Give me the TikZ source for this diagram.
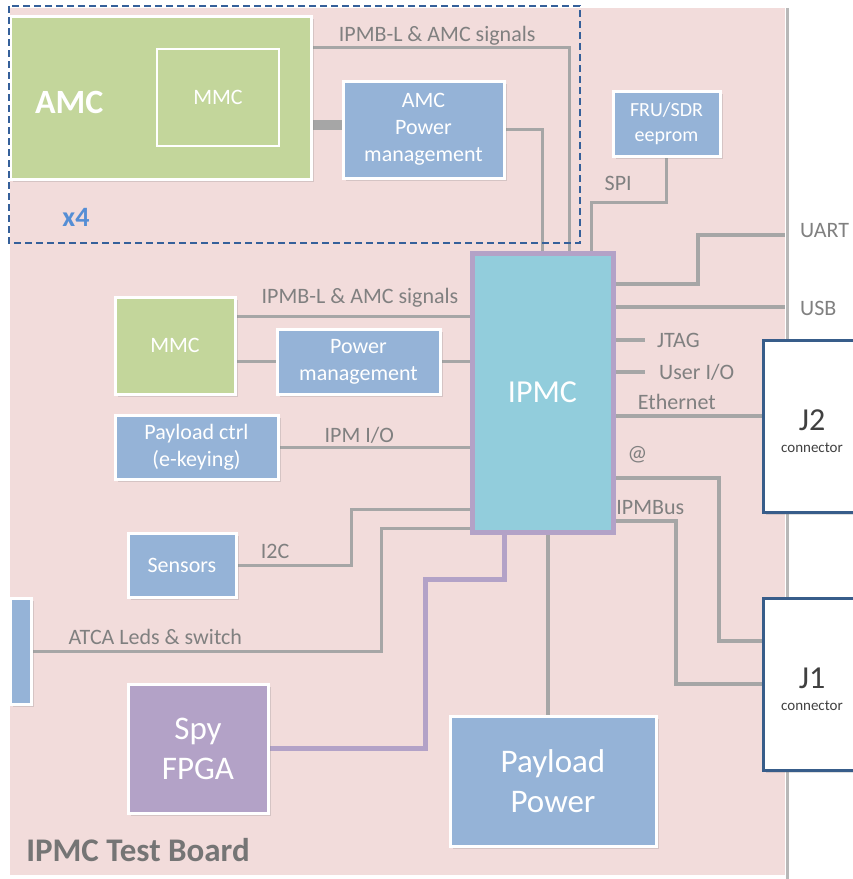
\documentclass[tikz,border=0pt]{standalone}
\usepackage{fontspec}
\setmainfont{Carlito}
\usetikzlibrary{positioning,shadows,backgrounds}
\definecolor{boardpink}{HTML}{F2DCDB}
\definecolor{amcgreen}{HTML}{C3D69B}
\definecolor{boxblue}{HTML}{95B3D7}
\definecolor{ipmccyan}{HTML}{92CDDC}
\definecolor{spypurple}{HTML}{B3A2C7}
\definecolor{linegray}{HTML}{A6A6A6}
\definecolor{labelgray}{HTML}{808080}
\definecolor{dashblue}{HTML}{35609A}
\definecolor{countblue}{HTML}{558ED5}
\definecolor{connblue}{HTML}{385D8A}

\begin{document}
\begin{tikzpicture}[x=1pt, y=-1pt, auto]
      % Define block styles
      \tikzstyle{block} = [rectangle, draw=white, line width=3pt, fill=boxblue, text=white, align=center, inner sep=0pt, font=\fontsize{22}{27}\selectfont, drop shadow={shadow xshift=3pt, shadow yshift=-3pt, opacity=.25}]
      \tikzstyle{bigblock} = [block, font=\fontsize{33}{40}\selectfont]
      \tikzstyle{conn} = [rectangle, draw=connblue, line width=3pt, fill=white, text=black!75, align=center, inner sep=0pt, drop shadow={shadow xshift=3pt, shadow yshift=-3pt, opacity=.25}]
      \tikzstyle{lbl} = [text=labelgray, inner sep=1pt, font=\fontsize{22}{27}\selectfont]
      \tikzstyle{line} = [draw=linegray, line width=3pt]
      \tikzstyle{wire} = [line, line width=4pt]
      \useasboundingbox (0,0) rectangle (853,879);

      % Place blocks
      \node [block, fill=amcgreen, minimum width=301pt, minimum height=163pt, label={[text=white, font=\bfseries\fontsize{34}{40}\selectfont, anchor=west, xshift=23pt, yshift=-5pt]west:AMC}] (amc) at (160.5,97.5) {};
      \node [rectangle, draw=white, line width=2.5pt, text=white, font=\fontsize{22}{27}\selectfont, minimum width=122pt, minimum height=97pt] (amcmmc) at (218,97.5) {MMC};
      \node [block, minimum width=161pt, minimum height=97pt] (amcpm) at (423.5,129.5) {AMC\\Power\\management};
      \node [block, minimum width=107pt, minimum height=65pt, font=\fontsize{20}{25}\selectfont] (fru) at (666.5,123.5) {FRU/SDR\\eeprom};
      \node [bigblock, draw=spypurple, line width=5pt, fill=ipmccyan, minimum width=141pt, minimum height=279pt, font=\fontsize{32}{38}\selectfont] (ipmc) at (542.5,392.5) {IPMC};
      \node [block, fill=amcgreen, minimum width=120pt, minimum height=97pt] (mmc) at (175,345.5) {MMC};
      \node [block, minimum width=163pt, minimum height=65pt] (pm) at (358.5,361.5) {Power\\management};
      \node [block, minimum width=163pt, minimum height=64pt] (payctrl) at (196.5,447) {Payload ctrl\\(e-keying)};
      \node [block, minimum width=108pt, minimum height=64pt] (sensors) at (182,565) {Sensors};
      \node [block, minimum width=21pt, minimum height=106pt] (leds) at (20.5,651) {};
      \node [bigblock, fill=spypurple, minimum width=140pt, minimum height=129pt] (fpga) at (198,748.5) {Spy\\FPGA};
      \node [bigblock, minimum width=206pt, minimum height=130pt] (paypow) at (553,781) {Payload\\Power};
      \node [conn, minimum width=98pt, minimum height=172pt, font=\fontsize{32}{30}\selectfont] (j2) at (812,426) {\rule{0pt}{32pt}J2\\[-8pt]{\fontsize{15}{18}\selectfont connector}};
      \node [conn, minimum width=98pt, minimum height=172pt, font=\fontsize{32}{30}\selectfont] (j1) at (812,684) {\rule{0pt}{32pt}J1\\[-8pt]{\fontsize{15}{18}\selectfont connector}};
      \node [text=countblue, font=\bfseries\fontsize{28}{34}\selectfont] (count) at (76,217) {x4};
      \node [text=black!54, font=\bfseries\fontsize{33}{40}\selectfont] (title) at (138,850) {IPMC Test Board};
      \draw [dashed, dash pattern=on 7pt off 4pt, dashblue, line width=2pt] (9,6) rectangle (580,243);

      % Draw lines
      \begin{scope}[on background layer]
      \fill [boardpink] (10,8) rectangle (785,875);
      \draw [linegray!80, line width=3pt] (787,8) -- (787,879);
      \coordinate (amcsig) at ([yshift=-33pt]amc.north east);
      \coordinate (amcport) at ([yshift=4.5pt]amcpm.west);
      \coordinate (spi) at ([xshift=48.5pt, yshift=48pt]ipmc.north);
      \coordinate (uart) at (785,235);
      \coordinate (usb) at (785,307);
      \coordinate (jtag) at (645,340);
      \coordinate (userio) at (645,372);
      \coordinate (eth) at ([yshift=10pt]j2.west);
      \coordinate (atport) at ([yshift=-227pt]ipmc.north east);
      \coordinate (atj1) at ([yshift=-44pt]j1.north west);
      \coordinate (busport) at ([yshift=-270pt]ipmc.north east);
      \coordinate (mmcsig) at ([yshift=-21pt]mmc.north east);
      \coordinate (i2cport) at ([yshift=-259pt]ipmc.north west);
      \coordinate (ledport) at ([yshift=-278pt]ipmc.north west);
      \coordinate (spyport) at ([xshift=-38.5pt]ipmc.south);
      \coordinate (pwrport) at ([xshift=5.5pt]ipmc.south);

      \path [line] (amcsig) -| node [lbl, pos=0.243, above=0pt] {IPMB-L \& AMC signals} ([xshift=26.5pt]ipmc.north);
      \path [line, line width=10pt] (amcport) -- (amcport -| amc.east);
      \path [line] (amcpm.east) -| (ipmc.north);
      \path [line] (fru.south) |- node [lbl, pos=0.82, above=9pt] {SPI} (spi) -- (spi |- ipmc.north);
      \path [wire] ([yshift=-33pt]ipmc.north east) -| ([xshift=-87pt]uart) -- (uart);
      \path [wire] (usb -| ipmc.east) -- (usb);
      \path [wire] (jtag -| ipmc.east) -- (jtag);
      \path [wire] (userio -| ipmc.east) -- (userio);
      \path [wire] (eth -| ipmc.east) -- node [lbl, pos=0.42, above=3.5pt] {Ethernet} (eth);
      \path [wire] (atport) -| node [lbl, pos=0.107, above=12pt] {@} ([xshift=-43pt]atj1) -- (atj1);
      \path [wire] (busport) -| node [lbl, pos=0.29, above=3pt] {IPMBus} ([xshift=-86pt]j1.west) -- (j1.west);
      \path [line] (mmcsig) -- node [lbl, pos=0.53, above=7pt] {IPMB-L \& AMC signals} (mmcsig -| ipmc.west);
      \path [line] (mmc.east |- pm.west) -- (pm.west);
      \path [line] (pm.east) -- (pm.east -| ipmc.west);
      \path [line] (payctrl.east) -- node [lbl, pos=0.42, above=1pt] {IPM I/O} (payctrl.east -| ipmc.west);
      \path [line] (sensors.east) -| node [lbl, pos=0.165, above=4pt] {I2C} ([xshift=-118pt]i2cport) -- (i2cport);
      \path [line] (leds.east) -| node [lbl, pos=0.176, above=3.5pt] {ATCA Leds \& switch} ([xshift=-88pt]ledport) -- (ledport);
      \path [line, draw=spypurple, line width=5pt] (fpga.east) -| ([xshift=-79pt, yshift=-45pt]spyport) -| (spyport);
      \path [wire] (pwrport) -- (pwrport |- paypow.north);
      \end{scope}

      % Port labels
      \node [lbl, right=14pt of uart, yshift=4pt] (uartlbl) {UART};
      \node [lbl, right=14pt of usb, yshift=-1.5pt] (usblbl) {USB};
      \node [lbl, right=11pt of jtag] (jtaglbl) {JTAG};
      \node [lbl, right=13pt of userio] (useriolbl) {User I/O};
\end{tikzpicture}
\end{document}
